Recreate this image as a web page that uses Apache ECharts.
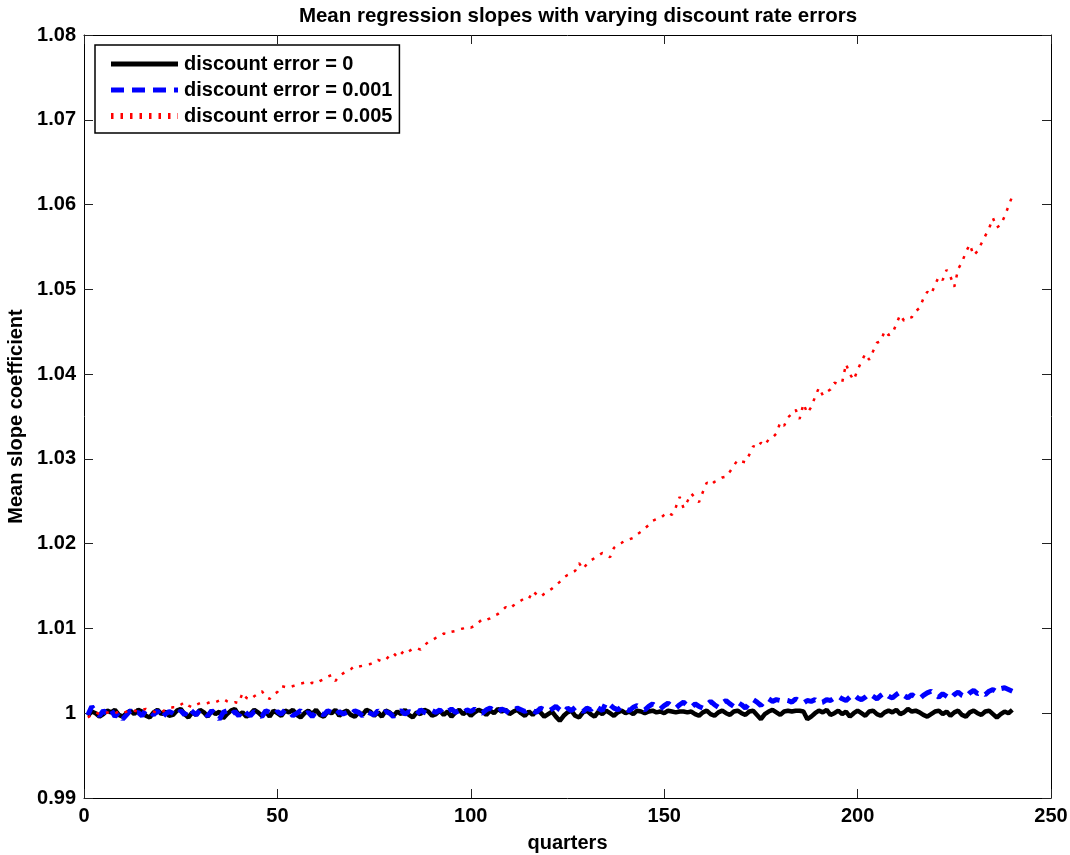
<!DOCTYPE html>
<html>
<head>
<meta charset="utf-8">
<title>Mean regression slopes</title>
<script src="https://cdn.jsdelivr.net/npm/echarts@6/dist/echarts.min.js"></script>
<style>
  html, body { margin: 0; padding: 0; background: #fff; }
  #chart { width: 1070px; height: 855px; }
</style>
</head>
<body>
<div id="chart"></div>
<script>
// Mean slope coefficient per quarter (1..240) for three discount-rate error levels.
const slopeErr0 = [
  0.9997, 1.0002, 1.0000, 0.9996, 0.9999, 1.0003, 1.0001, 1.0004, 0.9998, 0.9996,
  1.0000, 1.0003, 0.9999, 1.0004, 1.0002, 0.9997, 0.9995, 1.0001, 1.0004, 0.9999,
  1.0002, 0.9997, 0.9998, 1.0003, 1.0005, 0.9999, 0.9995, 1.0001, 0.9998, 1.0004,
  1.0001, 0.9996, 1.0003, 0.9999, 1.0002, 0.9994, 0.9999, 1.0003, 1.0005, 0.9998,
  1.0001, 0.9996, 0.9999, 1.0004, 1.0001, 0.9997, 1.0002, 0.9996, 1.0003, 1.0000,
  0.9997, 1.0003, 1.0001, 1.0004, 0.9998, 0.9995, 1.0000, 1.0003, 0.9999, 1.0004,
  0.9998, 0.9996, 1.0002, 1.0000, 1.0004, 0.9997, 1.0001, 1.0003, 0.9998, 0.9996,
  1.0001, 0.9998, 1.0004, 1.0002, 0.9997, 1.0001, 0.9996, 1.0003, 1.0001, 0.9997,
  1.0002, 0.9999, 1.0004, 0.9998, 0.9995, 1.0001, 0.9999, 1.0004, 1.0002, 0.9997,
  0.9999, 1.0003, 0.9998, 1.0002, 0.9996, 1.0001, 1.0004, 0.9999, 1.0002, 0.9997,
  1.0001, 1.0004, 1.0002, 0.9998, 1.0003, 1.0000, 1.0005, 1.0002, 1.0004, 0.9999,
  1.0002, 1.0004, 1.0000, 0.9997, 1.0002, 0.9998, 1.0003, 1.0001, 0.9996, 0.9999,
  1.0002, 0.9996, 0.9991, 0.9997, 1.0001, 1.0003, 0.9997, 0.9995, 1.0001, 1.0003,
  0.9999, 0.9996, 1.0002, 0.9999, 1.0003, 1.0000, 0.9997, 1.0001, 1.0003, 1.0000,
  1.0002, 0.9999, 1.0003, 1.0002, 1.0000, 1.0002, 1.0003, 1.0001, 1.0002, 1.0000,
  1.0003, 1.0002, 1.0001, 1.0002, 1.0002, 1.0001, 1.0002, 0.9999, 0.9997, 1.0001,
  1.0003, 0.9999, 0.9997, 1.0001, 1.0003, 1.0000, 0.9998, 1.0002, 1.0003, 1.0000,
  0.9998, 1.0002, 1.0003, 0.9998, 0.9993, 0.9999, 1.0002, 1.0004, 1.0001, 0.9998,
  1.0002, 1.0003, 1.0002, 1.0003, 1.0003, 1.0002, 0.9993, 0.9996, 1.0000, 1.0003,
  1.0001, 1.0004, 0.9998, 1.0000, 1.0003, 0.9999, 1.0002, 0.9996, 1.0000, 1.0003,
  1.0000, 0.9997, 1.0002, 1.0003, 0.9999, 0.9997, 1.0001, 1.0003, 1.0001, 1.0004,
  0.9999, 1.0001, 1.0005, 1.0002, 1.0003, 1.0001, 0.9998, 0.9996, 0.9999, 1.0002,
  1.0003, 0.9999, 1.0002, 0.9997, 1.0001, 1.0003, 0.9998, 0.9996, 1.0001, 1.0003,
  1.0000, 0.9998, 1.0002, 1.0003, 0.9999, 0.9995, 0.9999, 1.0002, 1.0000, 1.0004
];

const slopeErr001 = [
  0.9998, 1.0008, 1.0001, 0.9997, 1.0003, 0.9999, 1.0004, 0.9996, 1.0001, 0.9993,
  0.9998, 1.0003, 0.9999, 1.0001, 0.9997, 1.0004, 1.0002, 0.9998, 1.0003, 0.9994,
  0.9999, 1.0002, 1.0000, 0.9997, 1.0003, 0.9998, 1.0006, 1.0002, 0.9998, 1.0004,
  1.0001, 0.9997, 1.0003, 0.9999, 0.9993, 1.0001, 1.0003, 0.9998, 1.0002, 0.9997,
  1.0004, 1.0000, 0.9997, 1.0002, 0.9999, 0.9996, 1.0003, 1.0001, 0.9998, 1.0002,
  0.9999, 1.0004, 1.0002, 0.9997, 1.0000, 1.0003, 0.9998, 1.0001, 0.9996, 1.0002,
  1.0000, 0.9998, 1.0003, 1.0001, 0.9997, 1.0002, 0.9999, 1.0001, 0.9998, 1.0003,
  1.0001, 0.9997, 1.0002, 1.0000, 0.9998, 1.0003, 0.9999, 1.0002, 1.0000, 0.9996,
  1.0001, 1.0003, 0.9999, 1.0002, 1.0000, 0.9998, 1.0004, 1.0001, 0.9999, 1.0003,
  1.0001, 1.0004, 0.9999, 1.0002, 1.0005, 1.0001, 1.0003, 1.0000, 1.0004, 1.0002,
  1.0005, 1.0002, 1.0000, 1.0004, 1.0006, 1.0003, 1.0001, 1.0005, 1.0003, 1.0000,
  1.0003, 1.0006, 1.0004, 1.0002, 1.0005, 1.0003, 1.0001, 1.0006, 1.0004, 1.0002,
  1.0005, 1.0008, 1.0004, 1.0001, 1.0006, 1.0003, 1.0007, 1.0005, 1.0002, 1.0006,
  1.0004, 1.0009, 1.0006, 1.0003, 1.0013, 1.0010, 1.0006, 1.0004, 1.0008, 1.0005,
  1.0003, 1.0007, 1.0009, 1.0006, 1.0004, 1.0008, 1.0011, 1.0007, 1.0005, 1.0009,
  1.0012, 1.0008, 1.0006, 1.0010, 1.0013, 1.0009, 1.0007, 1.0011, 1.0008, 1.0006,
  1.0010, 1.0014, 1.0010, 1.0007, 1.0012, 1.0015, 1.0011, 1.0008, 1.0013, 1.0010,
  1.0006, 1.0012, 1.0016, 1.0013, 1.0009, 1.0015, 1.0017, 1.0014, 1.0016, 1.0015,
  1.0016, 1.0015, 1.0013, 1.0017, 1.0014, 1.0012, 1.0015, 1.0014, 1.0016, 1.0012,
  1.0013, 1.0016, 1.0015, 1.0018, 1.0020, 1.0017, 1.0015, 1.0019, 1.0022, 1.0018,
  1.0016, 1.0019, 1.0023, 1.0020, 1.0017, 1.0021, 1.0024, 1.0020, 1.0018, 1.0022,
  1.0025, 1.0021, 1.0018, 1.0022, 1.0019, 1.0017, 1.0021, 1.0024, 1.0026, 1.0022,
  1.0019, 1.0023, 1.0020, 1.0017, 1.0022, 1.0025, 1.0021, 1.0019, 1.0024, 1.0027,
  1.0023, 1.0025, 1.0022, 1.0026, 1.0028, 1.0025, 1.0029, 1.0030, 1.0028, 1.0026
];

const slopeErr005 = [
  0.9995, 0.9998, 1.0001, 0.9999, 1.0000, 1.0001, 0.9999, 1.0000, 1.0002, 1.0000,
  1.0002, 1.0004, 1.0003, 1.0002, 1.0004, 1.0005, 1.0003, 1.0002, 1.0000, 1.0001,
  1.0004, 1.0006, 1.0007, 1.0007, 1.0010, 1.0013, 1.0009, 1.0007, 1.0010, 1.0012,
  1.0011, 1.0012, 1.0014, 1.0013, 1.0015, 1.0017, 1.0014, 1.0012, 1.0013, 1.0012,
  1.0024, 1.0018, 1.0016, 1.0020, 1.0023, 1.0026, 1.0019, 1.0017, 1.0022, 1.0025,
  1.0032, 1.0031, 1.0030, 1.0032, 1.0033, 1.0035, 1.0036, 1.0034, 1.0036, 1.0035,
  1.0038, 1.0040, 1.0043, 1.0045, 1.0038, 1.0044, 1.0047, 1.0050, 1.0052, 1.0056,
  1.0055, 1.0056, 1.0057, 1.0058, 1.0060, 1.0063, 1.0061, 1.0063, 1.0068, 1.0071,
  1.0066, 1.0070, 1.0075, 1.0073, 1.0076, 1.0077, 1.0075, 1.0080, 1.0084, 1.0086,
  1.0089, 1.0091, 1.0094, 1.0093, 1.0096, 1.0097, 1.0099, 1.0100, 1.0102, 1.0101,
  1.0103, 1.0107, 1.0111, 1.0110, 1.0112, 1.0115, 1.0117, 1.0121, 1.0125, 1.0123,
  1.0127, 1.0130, 1.0133, 1.0136, 1.0135, 1.0144, 1.0140, 1.0137, 1.0141, 1.0144,
  1.0147, 1.0151, 1.0155, 1.0160, 1.0163, 1.0165, 1.0168, 1.0177, 1.0170, 1.0176,
  1.0180, 1.0183, 1.0186, 1.0189, 1.0187, 1.0184, 1.0195, 1.0199, 1.0201, 1.0204,
  1.0205, 1.0207, 1.0211, 1.0214, 1.0218, 1.0222, 1.0227, 1.0229, 1.0230, 1.0234,
  1.0237, 1.0234, 1.0243, 1.0255, 1.0242, 1.0250, 1.0259, 1.0254, 1.0249, 1.0261,
  1.0272, 1.0269, 1.0273, 1.0275, 1.0278, 1.0279, 1.0285, 1.0292, 1.0299, 1.0297,
  1.0296, 1.0305, 1.0315, 1.0313, 1.0319, 1.0316, 1.0323, 1.0325, 1.0330, 1.0343,
  1.0339, 1.0349, 1.0353, 1.0358, 1.0347, 1.0365, 1.0354, 1.0361, 1.0373, 1.0384,
  1.0375, 1.0379, 1.0382, 1.0390, 1.0388, 1.0390, 1.0412, 1.0400, 1.0393, 1.0405,
  1.0415, 1.0424, 1.0417, 1.0427, 1.0437, 1.0439, 1.0451, 1.0446, 1.0448, 1.0459,
  1.0470, 1.0463, 1.0466, 1.0467, 1.0474, 1.0478, 1.0489, 1.0497, 1.0494, 1.0505,
  1.0515, 1.0511, 1.0523, 1.0515, 1.0503, 1.0524, 1.0532, 1.0544, 1.0553, 1.0540,
  1.0545, 1.0554, 1.0563, 1.0572, 1.0584, 1.0573, 1.0576, 1.0586, 1.0598, 1.0610
];

const seriesNames = ['discount error = 0', 'discount error = 0.001', 'discount error = 0.005'];
const xTicks = [0, 50, 100, 150, 200, 250];
const yTicks = [0.99, 1.00, 1.01, 1.02, 1.03, 1.04, 1.05, 1.06, 1.07, 1.08];

const FONT = '"Liberation Sans", Arial, Helvetica, sans-serif';

function pairs(values) {
  return values.map((v, i) => [i + 1, v]);
}

function fmtY(v) {
  return String(parseFloat(v.toFixed(2)));
}

const styles = [
  { color: '#000000', width: 4.5, type: 'solid' },
  { color: '#0000ff', width: 5, type: [12, 8] },
  { color: '#ff0000', width: 2.5, type: [3, 7] }
];
const legendStyles = [
  { color: '#000000', width: 5, type: 'solid' },
  { color: '#0000ff', width: 5, type: [13, 8] },
  { color: '#ff0000', width: 6, type: [2.5, 7] }
];

const tickStyle = { show: true, inside: true, length: 9, lineStyle: { color: '#222', width: 1 } };
const lineAxis = { show: true, onZero: false, lineStyle: { color: '#000', width: 1 } };

const xBase = {
  type: 'value',
  min: xTicks[0],
  max: xTicks[xTicks.length - 1],
  interval: xTicks[1] - xTicks[0],
  axisLine: lineAxis,
  axisTick: tickStyle,
  splitLine: { show: false }
};
const yBase = {
  type: 'value',
  min: yTicks[0],
  max: yTicks[yTicks.length - 1],
  interval: 0.01,
  axisLine: lineAxis,
  axisTick: tickStyle,
  splitLine: { show: false }
};

const chart = echarts.init(document.getElementById('chart'), null, { renderer: 'canvas' });

chart.setOption({
  backgroundColor: '#fff',
  animation: false,
  textStyle: { fontFamily: FONT },
  title: {
    text: 'Mean regression slopes with varying discount rate errors',
    left: 573,
    textAlign: 'center',
    top: 1,
    textStyle: { fontFamily: FONT, fontSize: 20.5, fontWeight: 'bold', color: '#000' }
  },
  grid: {
    left: 84, right: 19, top: 35, bottom: 57,
    containLabel: false,
    outerBoundsMode: 'none'
  },
  legend: {
    orient: 'vertical',
    left: 95,
    top: 45,
    padding: [9, 7, 7, 13],
    itemWidth: 67,
    itemHeight: 20,
    itemGap: 6,
    backgroundColor: '#fff',
    borderColor: '#000',
    borderWidth: 1.5,
    borderRadius: 0,
    itemStyle: { opacity: 0 },
    textStyle: { fontFamily: FONT, fontSize: 20, fontWeight: 'bold', color: '#000', padding: [0, 0, 0, 1] },
    data: seriesNames.map((name, k) => ({
      name: name,
      itemStyle: { opacity: 0 },
      lineStyle: legendStyles[k]
    }))
  },
  xAxis: [
    Object.assign({}, xBase, {
      position: 'bottom',
      name: 'quarters',
      nameLocation: 'middle',
      nameGap: 35,
      nameTextStyle: { fontFamily: FONT, fontSize: 20, fontWeight: 'bold', color: '#000' },
      axisLabel: { margin: 8, fontFamily: FONT, fontSize: 20, fontWeight: 'bold', color: '#000' }
    }),
    Object.assign({}, xBase, { position: 'top', axisLabel: { show: false } })
  ],
  yAxis: [
    Object.assign({}, yBase, {
      position: 'left',
      name: 'Mean slope coefficient',
      nameLocation: 'middle',
      nameGap: 58,
      nameRotate: 90,
      nameTextStyle: { fontFamily: FONT, fontSize: 20, fontWeight: 'bold', color: '#000' },
      axisLabel: { margin: 8, fontFamily: FONT, fontSize: 20, fontWeight: 'bold', color: '#000', formatter: fmtY }
    }),
    Object.assign({}, yBase, { position: 'right', axisLabel: { show: false } })
  ],
  series: [slopeErr0, slopeErr001, slopeErr005].map((vals, k) => ({
    name: seriesNames[k],
    type: 'line',
    data: pairs(vals),
    symbol: 'none',
    color: styles[k].color,
    lineStyle: styles[k],
    z: 2 + k
  }))
});
</script>
</body>
</html>
